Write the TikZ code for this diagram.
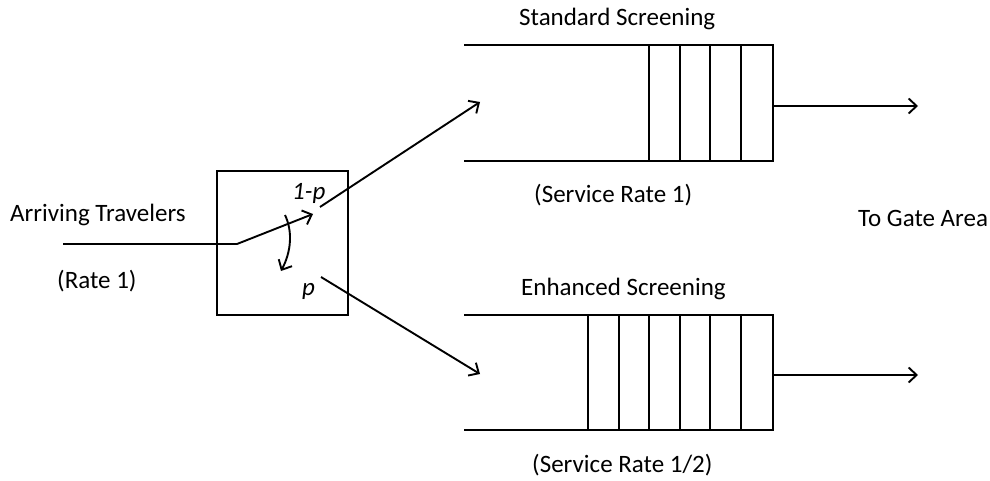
\documentclass[tikz,border=0pt]{standalone}
\usepackage{fontspec}
\setmainfont{Carlito}
\usetikzlibrary{arrows.meta}
\begin{document}
\begin{tikzpicture}[x=1pt,y=-1pt,
  ln/.style={line width=1.9pt, line cap=butt},
  arr/.style={ln,-{Straight Barb[length=8pt,width=15pt,line width=1.9pt]}},
  lbl/.style={font=\fontsize{25}{30}\selectfont, inner sep=0pt, anchor=base west},
  plbl/.style={font=\fontsize{25}{30}\selectfont\itshape, inner sep=0pt, anchor=base west},
  gate/.style={draw, line width=1.9pt, minimum width=131pt, minimum height=144pt, inner sep=0pt}]
\useasboundingbox (0,0) rectangle (990,481);

% router box
\node[gate] (router) at (282.5,243) {};

% labels
\node[lbl] (arriving) at (10,222) {Arriving Travelers};
\node[lbl] (rate) at (57,288) {(Rate 1)};
\node[plbl] (oneminusp) at (292,200) {1-p};
\node[plbl] (plabel) at (302,295) {p};
\node[lbl] (stdlbl) at (519,26) {Standard Screening};
\node[lbl] (stdrate) at (534,203) {(Service Rate 1)};
\node[lbl] (gatelbl) at (858,226) {To Gate Area};
\node[lbl] (enhlbl) at (521,295) {Enhanced Screening};
\node[lbl] (enhrate) at (532,472) {(Service Rate 1/2)};

% coordinates
\coordinate (inStart) at (63,244);
\coordinate (inCorner) at (237,244);
\coordinate (inTip) at (313,214);
\coordinate (upStart) at (320,207);
\coordinate (upTip) at (480,102);
\coordinate (loStart) at (321,277);
\coordinate (loTip) at (480,374);
\coordinate (swA) at (285,215);
\coordinate (swB) at (281,271);
\coordinate (stdOut) at (773,106);
\coordinate (stdEnd) at (918,106);
\coordinate (enhOut) at (773,375);
\coordinate (enhEnd) at (918,375);

% standard queue
\draw[ln] (464,45) -- (773,45) -- (773,161) -- (464,161);
\foreach \x in {649,680,710,741}
  \draw[ln] (\x,45) -- (\x,161);

% enhanced queue
\draw[ln] (464,315) -- (773,315) -- (773,430) -- (464,430);
\foreach \x in {588,619,649,680,710,741}
  \draw[ln] (\x,315) -- (\x,430);

% connectors
\draw[arr] (inStart) -- (inCorner) -- (inTip);
\draw[arr] (upStart) -- (upTip);
\draw[arr] (loStart) -- (loTip);
\draw[arr] (swA) .. controls (293,232) and (291,252) .. (swB);
\draw[arr] (stdOut) -- (stdEnd);
\draw[arr] (enhOut) -- (enhEnd);
\end{tikzpicture}
\end{document}
